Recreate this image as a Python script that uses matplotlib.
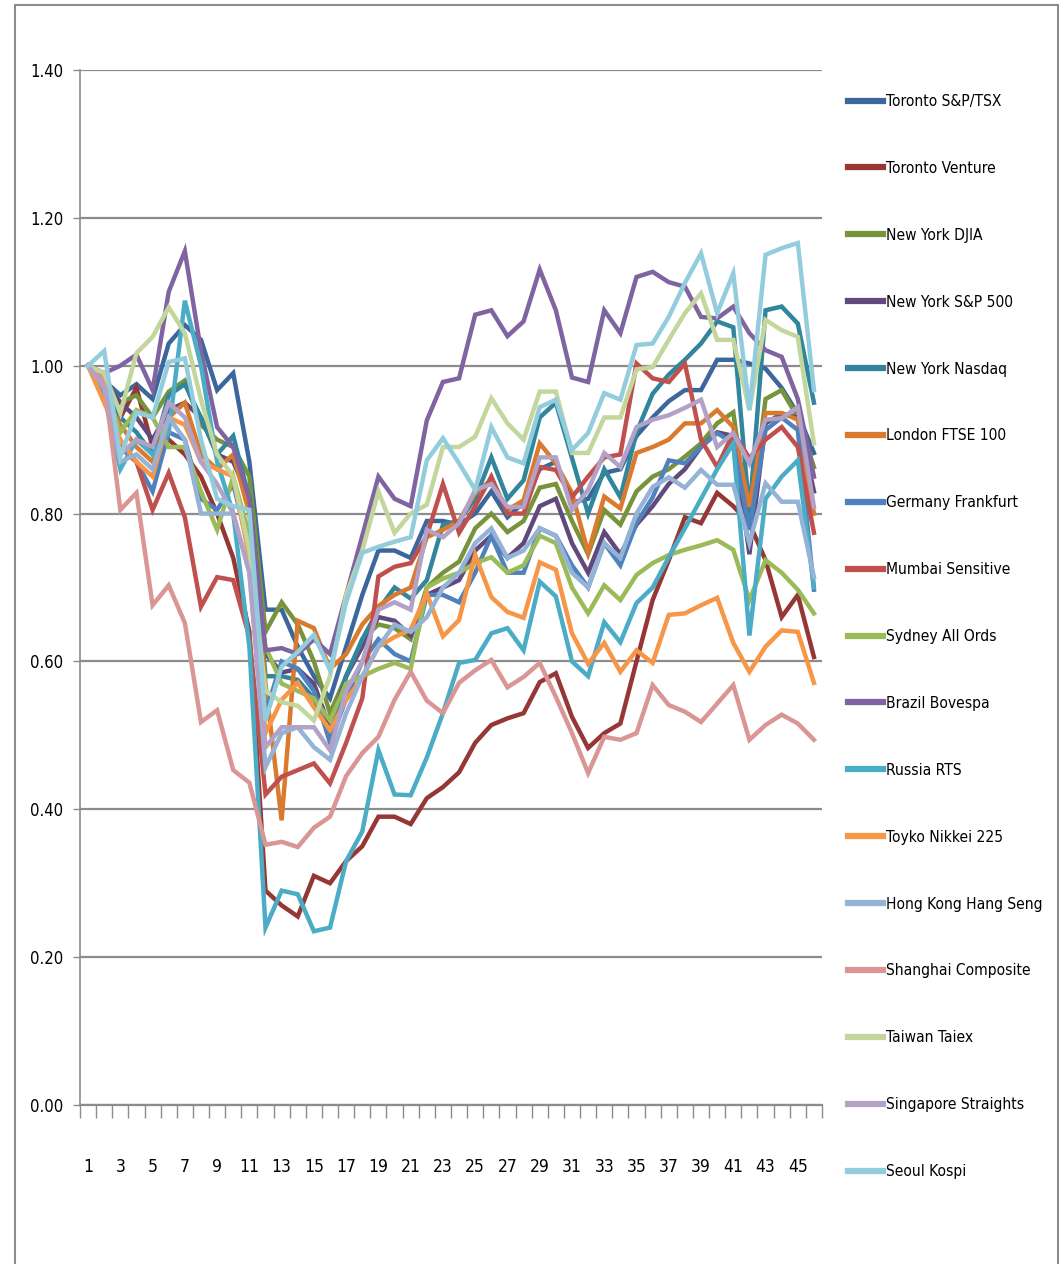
import numpy as np
import matplotlib
matplotlib.use("Agg")
import matplotlib.pyplot as plt
from matplotlib.patches import Rectangle
from matplotlib.ticker import FixedLocator, FormatStrFormatter

plt.rcParams['font.family'] = ['DejaVu Sans']
plt.rcParams['font.stretch'] = 'condensed'

weeks = list(range(1, 47))

tsx = [1.00, 0.98, 0.96, 0.975, 0.955, 1.03, 1.055, 1.035, 0.967, 0.99,
       0.87, 0.67, 0.67, 0.62, 0.58, 0.55, 0.62, 0.69, 0.75, 0.75,
       0.74, 0.79, 0.79, 0.785, 0.80, 0.83, 0.795, 0.815, 0.86, 0.87,
       0.815, 0.82, 0.855, 0.86, 0.905, 0.93, 0.952, 0.967, 0.967, 1.008,
       1.008, 1.003, 0.996, 0.97, 0.935, 0.882]
venture = [1.00, 0.97, 0.93, 0.97, 0.89, 0.90, 0.88, 0.85, 0.80, 0.74,
           0.64, 0.29, 0.27, 0.255, 0.31, 0.30, 0.33, 0.35, 0.39, 0.39,
           0.38, 0.415, 0.43, 0.45, 0.49, 0.514, 0.523, 0.53, 0.572, 0.584,
           0.525, 0.483, 0.503, 0.516, 0.60, 0.683, 0.737, 0.795, 0.787, 0.828,
           0.81, 0.787, 0.737, 0.66, 0.69, 0.606]
djia = [1.00, 0.98, 0.95, 0.96, 0.93, 0.965, 0.98, 0.92, 0.90, 0.89,
        0.85, 0.64, 0.68, 0.65, 0.60, 0.53, 0.58, 0.63, 0.65, 0.645,
        0.63, 0.70, 0.72, 0.735, 0.78, 0.80, 0.775, 0.79, 0.835, 0.84,
        0.79, 0.745, 0.805, 0.785, 0.83, 0.85, 0.86, 0.877, 0.895, 0.922,
        0.937, 0.78, 0.955, 0.967, 0.93, 0.863]
sp500 = [1.00, 0.98, 0.95, 0.93, 0.90, 0.94, 0.95, 0.93, 0.88, 0.87,
         0.82, 0.61, 0.585, 0.59, 0.57, 0.51, 0.58, 0.62, 0.66, 0.655,
         0.635, 0.69, 0.70, 0.71, 0.75, 0.77, 0.74, 0.76, 0.81, 0.82,
         0.76, 0.72, 0.775, 0.745, 0.785, 0.81, 0.84, 0.86, 0.89, 0.91,
         0.905, 0.745, 0.922, 0.935, 0.93, 0.83]
nasdaq = [1.00, 0.98, 0.93, 0.91, 0.88, 0.96, 0.975, 0.93, 0.88, 0.905,
          0.82, 0.58, 0.58, 0.575, 0.55, 0.50, 0.58, 0.63, 0.67, 0.70,
          0.685, 0.71, 0.785, 0.79, 0.82, 0.876, 0.82, 0.845, 0.93, 0.95,
          0.875, 0.80, 0.86, 0.822, 0.91, 0.962, 0.988, 1.008, 1.03, 1.06,
          1.052, 0.80, 1.075, 1.08, 1.057, 0.95]
ftse = [1.00, 0.96, 0.92, 0.89, 0.87, 0.93, 0.95, 0.88, 0.86, 0.88,
        0.80, 0.57, 0.385, 0.655, 0.645, 0.59, 0.61, 0.65, 0.675, 0.69,
        0.70, 0.768, 0.778, 0.79, 0.828, 0.845, 0.805, 0.818, 0.895, 0.868,
        0.828, 0.747, 0.823, 0.807, 0.882, 0.89, 0.90, 0.922, 0.922, 0.94,
        0.917, 0.809, 0.936, 0.936, 0.927, 0.80]
frankfurt = [1.00, 0.97, 0.89, 0.87, 0.83, 0.91, 0.90, 0.82, 0.805, 0.84,
             0.75, 0.53, 0.60, 0.59, 0.56, 0.49, 0.55, 0.60, 0.63, 0.61,
             0.60, 0.69, 0.69, 0.68, 0.72, 0.77, 0.72, 0.72, 0.78, 0.77,
             0.73, 0.70, 0.76, 0.73, 0.787, 0.822, 0.872, 0.868, 0.89, 0.909,
             0.895, 0.778, 0.913, 0.93, 0.913, 0.697]
mumbai = [1.00, 0.96, 0.89, 0.87, 0.805, 0.855, 0.795, 0.674, 0.714, 0.71,
          0.633, 0.42, 0.444, 0.453, 0.462, 0.435, 0.49, 0.55, 0.715, 0.728,
          0.733, 0.77, 0.84, 0.774, 0.81, 0.85, 0.80, 0.80, 0.863, 0.859,
          0.822, 0.85, 0.876, 0.88, 1.003, 0.983, 0.978, 1.003, 0.90, 0.863,
          0.909, 0.875, 0.90, 0.917, 0.89, 0.774]
sydney = [1.00, 0.97, 0.91, 0.94, 0.93, 0.89, 0.89, 0.83, 0.778, 0.85,
          0.77, 0.62, 0.57, 0.56, 0.55, 0.52, 0.57, 0.58, 0.59, 0.598,
          0.59, 0.70, 0.712, 0.72, 0.733, 0.741, 0.72, 0.73, 0.77, 0.76,
          0.70, 0.665, 0.703, 0.683, 0.717, 0.733, 0.744, 0.751, 0.757, 0.764,
          0.751, 0.683, 0.737, 0.72, 0.697, 0.665]
bovespa = [1.00, 0.99, 1.00, 1.015, 0.967, 1.10, 1.155, 1.02, 0.917, 0.89,
           0.82, 0.615, 0.618, 0.61, 0.63, 0.61, 0.69, 0.77, 0.85, 0.82,
           0.81, 0.926, 0.978, 0.983, 1.069, 1.075, 1.04, 1.06, 1.13, 1.075,
           0.984, 0.978, 1.075, 1.044, 1.12, 1.127, 1.113, 1.107, 1.066, 1.064,
           1.08, 1.044, 1.021, 1.012, 0.955, 0.85]
rts = [1.00, 0.96, 0.86, 0.90, 0.88, 0.91, 1.088, 1.00, 0.87, 0.80,
       0.62, 0.24, 0.29, 0.285, 0.235, 0.24, 0.33, 0.37, 0.48, 0.42,
       0.419, 0.47, 0.53, 0.598, 0.602, 0.638, 0.645, 0.615, 0.708, 0.688,
       0.60, 0.58, 0.653, 0.626, 0.679, 0.70, 0.741, 0.78, 0.82, 0.86,
       0.895, 0.635, 0.82, 0.85, 0.872, 0.70]
nikkei = [1.00, 0.95, 0.90, 0.87, 0.85, 0.93, 0.92, 0.87, 0.86, 0.85,
          0.74, 0.503, 0.548, 0.571, 0.538, 0.507, 0.548, 0.578, 0.62, 0.633,
          0.643, 0.692, 0.634, 0.656, 0.744, 0.687, 0.667, 0.659, 0.734, 0.724,
          0.638, 0.597, 0.625, 0.586, 0.615, 0.598, 0.663, 0.665, 0.676, 0.686,
          0.625, 0.586, 0.62, 0.642, 0.64, 0.571]
hangseng = [1.00, 0.98, 0.87, 0.88, 0.86, 0.93, 0.90, 0.80, 0.80, 0.80,
            0.72, 0.457, 0.503, 0.511, 0.484, 0.467, 0.53, 0.58, 0.62, 0.65,
            0.64, 0.66, 0.70, 0.72, 0.76, 0.78, 0.74, 0.75, 0.78, 0.77,
            0.72, 0.70, 0.76, 0.74, 0.80, 0.836, 0.849, 0.835, 0.859, 0.839,
            0.839, 0.76, 0.841, 0.816, 0.816, 0.714]
shanghai = [1.00, 0.98, 0.805, 0.828, 0.676, 0.703, 0.652, 0.518, 0.534, 0.453,
            0.436, 0.352, 0.356, 0.349, 0.375, 0.39, 0.445, 0.476, 0.498, 0.548,
            0.586, 0.547, 0.53, 0.571, 0.588, 0.602, 0.565, 0.579, 0.598, 0.552,
            0.503, 0.449, 0.498, 0.494, 0.503, 0.568, 0.541, 0.532, 0.518, 0.543,
            0.568, 0.494, 0.514, 0.528, 0.516, 0.494]
taiex = [1.00, 0.99, 0.936, 1.017, 1.039, 1.079, 1.044, 0.954, 0.88, 0.85,
         0.75, 0.56, 0.545, 0.54, 0.52, 0.58, 0.69, 0.75, 0.83, 0.774,
         0.80, 0.812, 0.89, 0.89, 0.904, 0.956, 0.922, 0.90, 0.965, 0.965,
         0.882, 0.882, 0.93, 0.93, 0.995, 0.998, 1.035, 1.071, 1.098, 1.035,
         1.035, 0.94, 1.062, 1.048, 1.039, 0.895]
straits = [1.00, 0.97, 0.88, 0.90, 0.89, 0.95, 0.93, 0.87, 0.84, 0.80,
           0.72, 0.484, 0.511, 0.511, 0.511, 0.48, 0.56, 0.60, 0.67, 0.68,
           0.67, 0.778, 0.768, 0.787, 0.832, 0.84, 0.809, 0.809, 0.876, 0.876,
           0.805, 0.832, 0.882, 0.863, 0.917, 0.927, 0.933, 0.943, 0.954, 0.89,
           0.909, 0.868, 0.927, 0.929, 0.944, 0.809]
kospi = [1.00, 1.02, 0.877, 0.937, 0.93, 1.005, 1.01, 0.90, 0.82, 0.81,
         0.805, 0.52, 0.593, 0.613, 0.636, 0.588, 0.68, 0.747, 0.755, 0.762,
         0.768, 0.872, 0.902, 0.868, 0.832, 0.917, 0.876, 0.868, 0.944, 0.954,
         0.886, 0.909, 0.963, 0.954, 1.028, 1.03, 1.066, 1.112, 1.152, 1.071,
         1.125, 0.94, 1.15, 1.159, 1.166, 0.967]

names = ["Toronto S&P/TSX", "Toronto Venture", "New York DJIA", "New York S&P 500",
         "New York Nasdaq", "London FTSE 100", "Germany Frankfurt", "Mumbai Sensitive",
         "Sydney All Ords", "Brazil Bovespa", "Russia RTS", "Toyko Nikkei 225",
         "Hong Kong Hang Seng", "Shanghai Composite", "Taiwan Taiex",
         "Singapore Straights", "Seoul Kospi"]
series = [tsx, venture, djia, sp500, nasdaq, ftse, frankfurt, mumbai, sydney,
          bovespa, rts, nikkei, hangseng, shanghai, taiex, straits, kospi]
colors = ["#3B679C", "#953735", "#77933C", "#604A7B", "#31859C", "#DA7A2E",
          "#4F81BD", "#C0504D", "#9BBB59", "#8064A2", "#4BACC6", "#F79646",
          "#95B3D7", "#D99694", "#C3D69B", "#B3A2C7", "#93CDDD"]

fig = plt.figure(figsize=(10.62, 12.64), dpi=100)
fig.patches.append(Rectangle((15 / 1062, -0.05), 1043 / 1062, 1.05 - 5 / 1264,
                             transform=fig.transFigure, fill=False,
                             edgecolor="#8C8C8C", linewidth=1.5))

ax = fig.add_axes([80 / 1062, 1 - 1105 / 1264, 742 / 1062, 1035 / 1264])

for vals, name, col in zip(series, names, colors):
    ax.plot(weeks, vals, color=col, linewidth=3.2, label=name,
            solid_joinstyle="miter")

ax.set_xlim(0.5, 46.5)
ax.set_ylim(0, 1.4)
ax.yaxis.set_major_locator(FixedLocator([0, 0.2, 0.4, 0.6, 0.8, 1.0, 1.2, 1.4]))
ax.yaxis.set_major_formatter(FormatStrFormatter("%.2f"))
ax.yaxis.grid(True, color="#8C8C8C", linewidth=1.6)
ax.set_axisbelow(True)

ax.xaxis.set_major_locator(FixedLocator(list(range(1, 47, 2))))
ax.xaxis.set_minor_locator(FixedLocator(list(np.arange(0.5, 47, 1.0))))
ax.set_xticklabels([str(i) for i in range(1, 47, 2)])
ax.tick_params(axis="x", which="major", length=0, pad=38, labelsize=12.5)
ax.tick_params(axis="x", which="minor", length=9, width=1, color="#8C8C8C",
               direction="out")
ax.tick_params(axis="y", length=5, width=1, color="#8C8C8C", pad=7, labelsize=12)

for side in ["top", "right"]:
    ax.spines[side].set_visible(False)
ax.spines["left"].set_color("#8C8C8C")
ax.spines["bottom"].set_color("#8C8C8C")
ax.spines["left"].set_linewidth(1.2)
ax.spines["bottom"].set_linewidth(1.6)

leg = fig.legend(loc="upper left", bbox_to_anchor=(848 / 1062, 1 - 94 / 1264),
                 frameon=False, fontsize=11.2, handlelength=2.25,
                 handletextpad=0.2, labelspacing=3.335, borderaxespad=0,
                 borderpad=0)
for line in leg.get_lines():
    line.set_linewidth(4.5)

fig.savefig("out.png", dpi=100)
